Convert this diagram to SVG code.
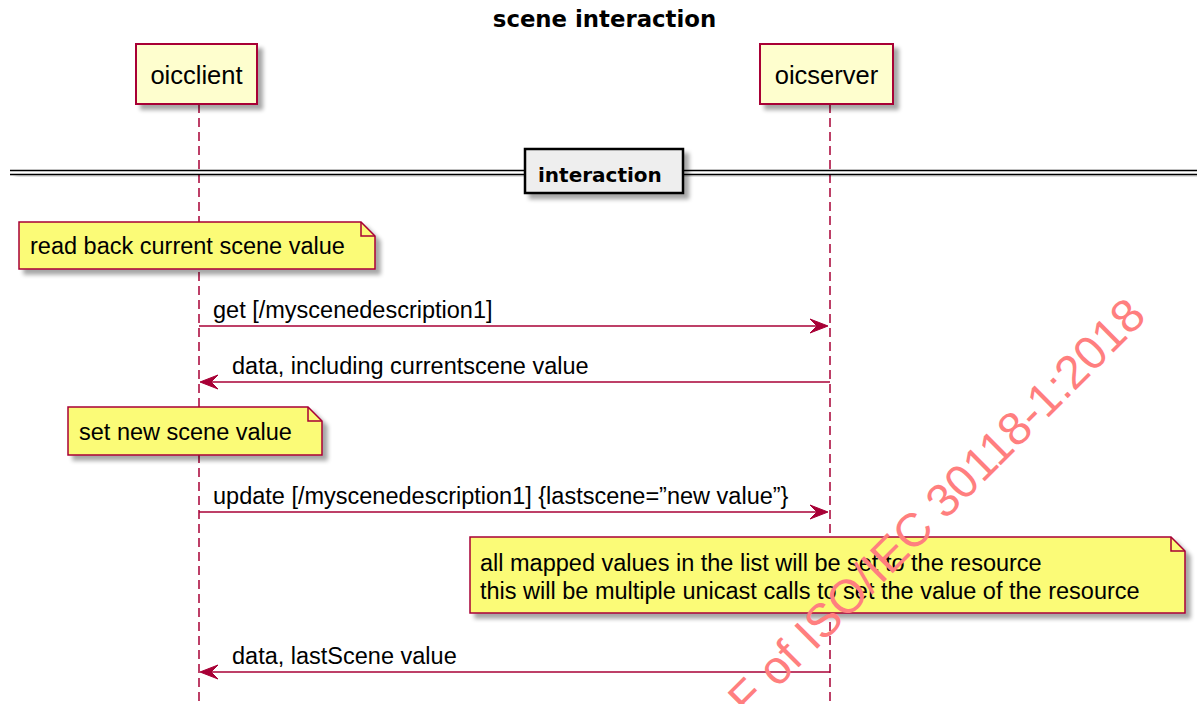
<svg xmlns="http://www.w3.org/2000/svg" width="1197" height="704" viewBox="0 0 1197 704">
<style>
.part{fill:#FEFECE;stroke:#A80036;stroke-width:2}
.life{stroke:#A80036;stroke-width:1.5;stroke-dasharray:9,5;fill:none}
.note{fill:#FBFB77;stroke:#A80036;stroke-width:1.5}
.fold{fill:none;stroke:#A80036;stroke-width:1.5}
.msg{stroke:#A80036;stroke-width:1.5;fill:none}
.head{fill:#A80036;stroke:#A80036;stroke-width:1}
.t{font-family:"Liberation Sans",Arial,sans-serif;font-size:23.5px;fill:#000}
.pt{font-family:"Liberation Sans",Arial,sans-serif;font-size:25.5px;fill:#000}
.b{font-family:"DejaVu Sans",Verdana,sans-serif;font-weight:bold;fill:#000}
.wm{font-family:"Liberation Sans",Arial,sans-serif;font-size:47px;fill:#FF7F7F}
</style>
<defs>
<filter id="sh" x="-10%" y="-20%" width="130%" height="160%">
<feGaussianBlur in="SourceAlpha" stdDeviation="2"/>
<feOffset dx="5" dy="5" result="o"/>
<feComponentTransfer><feFuncA type="linear" slope="0.35"/></feComponentTransfer>
<feMerge><feMergeNode/><feMergeNode in="SourceGraphic"/></feMerge>
</filter>
</defs>
<rect width="1197" height="704" fill="#FFFFFF"/>
<text class="b" x="604.5" y="27" font-size="22.8" text-anchor="middle">scene interaction</text>

<g id="lifelines">
<line class="life" x1="199" y1="104" x2="199" y2="704"/>
<line class="life" x1="830" y1="104" x2="830" y2="704"/>
</g>

<g id="oicclient">
<rect class="part" x="136" y="44" width="121" height="60" filter="url(#sh)"/>
<text class="pt" x="196.5" y="84" text-anchor="middle">oicclient</text>
</g>
<g id="oicserver">
<rect class="part" x="760" y="44" width="133" height="60" filter="url(#sh)"/>
<text class="pt" x="826.5" y="84" text-anchor="middle">oicserver</text>
</g>

<g id="divider">
<g filter="url(#sh)">
<line x1="10" y1="170.5" x2="1197" y2="170.5" stroke="#000" stroke-width="1.5"/>
<line x1="10" y1="174.5" x2="1197" y2="174.5" stroke="#000" stroke-width="1.5"/>
</g>
<rect x="525" y="149" width="158" height="44" fill="#EEEEEE" stroke="#000" stroke-width="2.5" filter="url(#sh)"/>
<text class="b" x="538" y="182" font-size="20">interaction</text>
</g>

<g id="note1">
<path class="note" d="M19,222 L361,222 L375,236 L375,269 L19,269 Z" filter="url(#sh)"/>
<path class="fold" d="M361,222 L361,236 L375,236"/>
<text class="t" x="30" y="254">read back current scene value</text>
</g>

<g id="note2">
<path class="note" d="M68,407 L308,407 L322,421 L322,455 L68,455 Z" filter="url(#sh)"/>
<path class="fold" d="M308,407 L308,421 L322,421"/>
<text class="t" x="79" y="440">set new scene value</text>
</g>

<g id="note3">
<path class="note" d="M470,537 L1171,537 L1185,551 L1185,613 L470,613 Z" filter="url(#sh)"/>
<path class="fold" d="M1171,537 L1171,551 L1185,551"/>
<text class="t" x="480" y="571">all mapped values in the list will be set to the resource</text>
<text class="t" x="480" y="599">this will be multiple unicast calls to set the value of the resource</text>
</g>

<g id="connectors">
<line class="msg" x1="199" y1="326" x2="826" y2="326"/>
<polygon class="head" points="828,326 810,319 817,326 810,333"/>
<text class="t" x="213" y="318">get [/myscenedescription1]</text>

<line class="msg" x1="830" y1="382" x2="202" y2="382"/>
<polygon class="head" points="200,382 218,375 211,382 218,389"/>
<text class="t" x="232" y="374">data, including currentscene value</text>

<line class="msg" x1="199" y1="512" x2="826" y2="512"/>
<polygon class="head" points="828,512 810,505 817,512 810,519"/>
<text class="t" x="213" y="504">update [/myscenedescription1] {lastscene=”new value”}</text>

<line class="msg" x1="830" y1="672" x2="202" y2="672"/>
<polygon class="head" points="200,672 218,665 211,672 218,679"/>
<text class="t" x="232" y="664">data, lastScene value</text>
</g>

<text class="wm" transform="translate(1148,318) rotate(-45)" text-anchor="end">F of ISO/IEC 30118-1:2018</text>
</svg>
